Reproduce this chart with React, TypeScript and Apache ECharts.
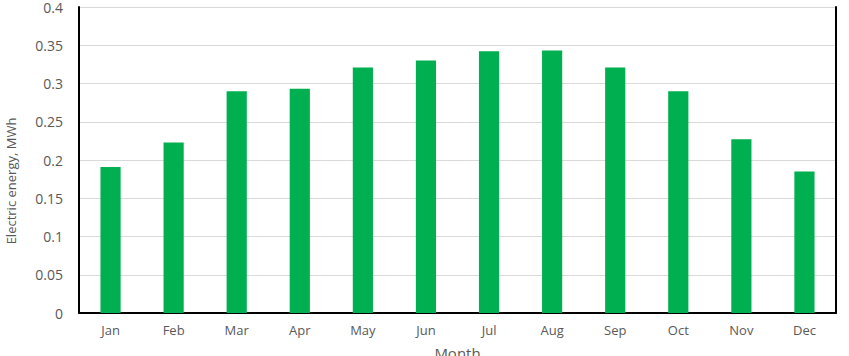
import React, { useEffect, useRef } from "react";
import * as echarts from "echarts";

const months = ["Jan", "Feb", "Mar", "Apr", "May", "Jun", "Jul", "Aug", "Sep", "Oct", "Nov", "Dec"];
const energyMWh = [0.191, 0.223, 0.29, 0.293, 0.321, 0.330, 0.342, 0.343, 0.321, 0.290, 0.227, 0.185];
const yTitle = "Electric energy, MWh";
const xTitle = "Month";

export default function App() {
  const ref = useRef<HTMLDivElement>(null);
  useEffect(() => {
    if (!ref.current) return;
    const chart = echarts.init(ref.current, null, { renderer: "svg" });
    const font = "'Open Sans', 'Liberation Sans', sans-serif";
    chart.setOption({
      animation: false,
      backgroundColor: "#ffffff",
      grid: { left: 79, right: 13, top: 7, bottom: 43, containLabel: false, outerBoundsMode: "none" },
      xAxis: {
        type: "category",
        data: months,
        name: xTitle,
        nameLocation: "middle",
        nameGap: 32,
        nameTextStyle: { color: "#595959", fontSize: 15, fontFamily: font },
        axisLine: { show: true, lineStyle: { color: "#000000", width: 2 } },
        axisTick: { show: false },
        axisLabel: { color: "#595959", fontSize: 13, fontFamily: font, margin: 10 },
      },
      yAxis: [
        {
          type: "value",
          min: 0,
          max: 0.4,
          interval: 0.05,
          axisLine: { show: true, lineStyle: { color: "#000000", width: 2 } },
          axisTick: { show: false },
          axisLabel: { color: "#595959", fontSize: 14, fontFamily: font, margin: 16 },
          splitLine: { show: true, lineStyle: { color: "#d9d9d9", width: 1 } },
        },
        {
          type: "value",
          position: "right",
          min: 0,
          max: 0.4,
          interval: 0.05,
          axisLine: { show: true, lineStyle: { color: "#000000", width: 2 } },
          axisTick: { show: false },
          axisLabel: { show: false },
          splitLine: { show: false },
        },
      ],
      graphic: [
        {
          type: "text",
          x: 11,
          y: 181,
          rotation: Math.PI / 2,
          style: {
            text: yTitle,
            fill: "#595959",
            fontSize: 13,
            fontFamily: font,
            textAlign: "center",
            textVerticalAlign: "middle",
          },
        },
      ],
      series: [
        {
          type: "bar",
          data: energyMWh,
          barWidth: "32%",
          itemStyle: { color: "#00B050" },
        },
      ],
    });
    return () => chart.dispose();
  }, []);
  return <div ref={ref} style={{ width: 849, height: 356, position: "absolute", left: 0, top: 0 }} />;
}
